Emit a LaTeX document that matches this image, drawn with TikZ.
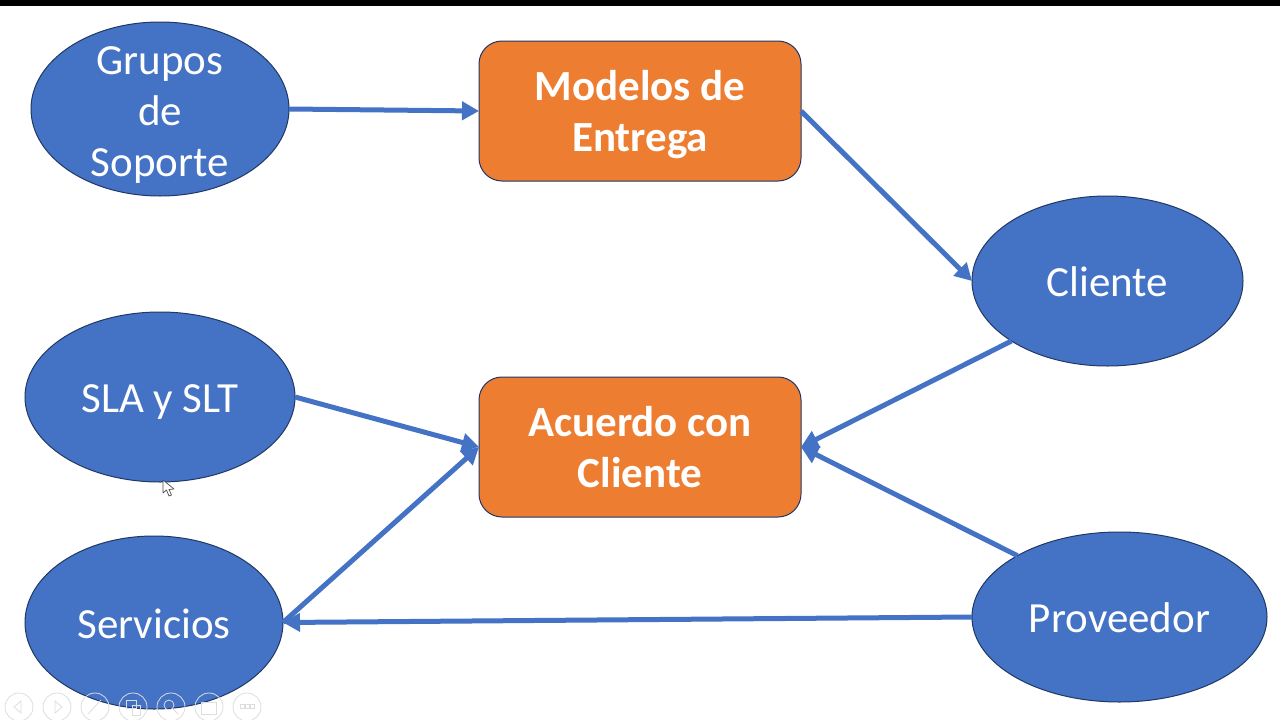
\documentclass[tikz,border=0pt]{standalone}
\usepackage{fontspec}
\setmainfont{Carlito}
\usetikzlibrary{shapes.geometric,arrows.meta}
\definecolor{bluefill}{HTML}{4472C4}
\definecolor{blueline}{HTML}{203864}
\definecolor{orangefill}{HTML}{ED7D31}
\definecolor{toolgray}{HTML}{DDDDDD}
\newcommand{\stacklines}[2]{\smash{\raisebox{#1}{\begin{tabular}{@{}c@{}}#2\end{tabular}}}}
\tikzset{
  oval/.style={ellipse,draw=blueline,line width=1pt,fill=bluefill,text=white,inner sep=0pt,outer sep=0pt,align=center,font=\fontsize{43}{51}\selectfont},
  oneline/.style={text height=31pt,text depth=0pt},
  panel/.style={rectangle,rounded corners=23pt,draw=blueline,line width=1pt,fill=orangefill,text=white,inner sep=0pt,outer sep=0pt,align=center,minimum width=322pt,minimum height=140pt,font=\fontsize{43}{51}\selectfont\bfseries},
  link/.style={draw=bluefill,line width=5pt,-{Triangle[length=17pt,width=18pt]}},
  toolring/.style={draw=toolgray,line width=.8pt},
}
\begin{document}
\begin{tikzpicture}[x=1pt,y=-1pt]
\useasboundingbox (0,0) rectangle (1280,720);
\fill[white] (0,0) rectangle (1280,720);
\fill[black] (0,0) rectangle (1280,6);
\node[oval,minimum width=258pt,minimum height=174pt] (grupos) at (160,109) {\stacklines{-12.5pt}{Grupos\\de\\Soporte}};
\node[oval,oneline,minimum width=270pt,minimum height=170pt] (sla) at (160,397) {SLA y SLT};
\node[oval,oneline,minimum width=258pt,minimum height=173pt] (servicios) at (154,622.5) {Servicios};
\node[oval,oneline,minimum width=271pt,minimum height=170pt] (cliente) at (1107.5,281) {Cliente};
\node[oval,oneline,minimum width=295pt,minimum height=170pt] (proveedor) at (1119.5,617) {Proveedor};
\node[panel] (modelos) at (640,111) {\stacklines{-11pt}{Modelos de\\Entrega}};
\node[panel] (acuerdo) at (640,447) {\stacklines{-11pt}{Acuerdo con\\Cliente}};
\draw[link] (grupos.east) -- (modelos.west);
\draw[link] (modelos.east) -- (cliente.west);
\draw[link] (cliente.212.8) -- (acuerdo.east);
\draw[link] (proveedor.149.5) -- (acuerdo.east);
\draw[link] (sla.east) -- (acuerdo.west);
\draw[link] (servicios.east) -- (acuerdo.west);
\draw[link] (proveedor.west) -- (servicios.east);
% pointer
\draw[draw=black!70,fill=white,line width=.7pt,line join=round] (163,480) -- (163,493) -- (166.5,490) -- (169,496) -- (171.5,495) -- (169,489.5) -- (174,489) -- cycle;
% slide-show toolbar
\foreach \tx in {19,57,95,133,171,209,247} \draw[toolring] (\tx,707) circle (14);
\draw[toolring] (21,701) -- (14,707) -- (21,713) -- cycle;
\draw[toolring] (55,701) -- (62,707) -- (55,713) -- cycle;
\draw[toolring] (88,714) -- (101,700);
\draw[toolring] (126,700) rectangle (136,708) (132,705) rectangle (140,715);
\draw[toolring] (169,705) circle (5) (173,709) -- (178,714);
\draw[toolring] (201,702) rectangle (216,714);
\draw[toolring] (240,704.5) rectangle (244,708.5) (245,704.5) rectangle (249,708.5) (250,704.5) rectangle (254,708.5);
\end{tikzpicture}
\end{document}
